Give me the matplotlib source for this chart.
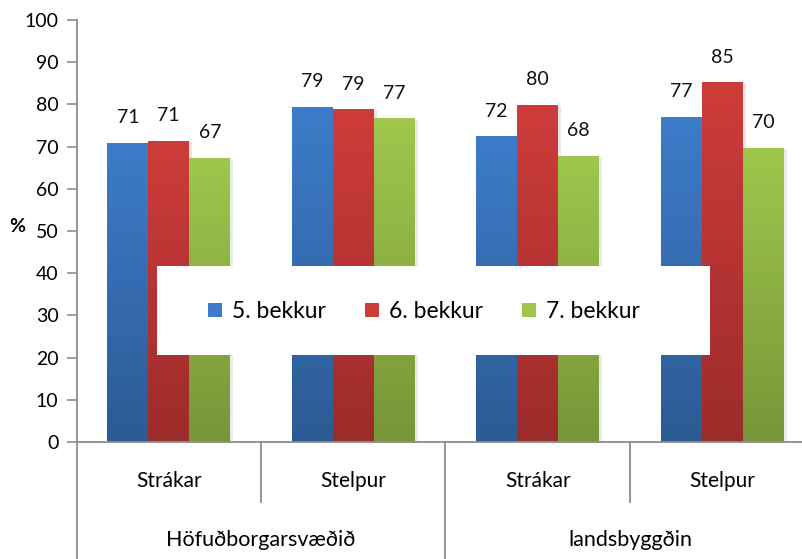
import matplotlib
matplotlib.use("Agg")
import matplotlib.pyplot as plt
import matplotlib.patheffects as pe
from matplotlib.colors import LinearSegmentedColormap
from matplotlib.patches import Rectangle, Patch
import numpy as np

plt.rcParams["font.family"] = ["Lato", "DejaVu Sans"]

# data
categories = ["Strákar", "Stelpur", "Strákar", "Stelpur"]
regions = ["Höfuðborgarsvæðið", "landsbyggðin"]
series = ["5. bekkur", "6. bekkur", "7. bekkur"]
bekkur5 = [70.9, 79.4, 72.4, 77.1]
bekkur6 = [71.4, 78.9, 79.9, 85.3]
bekkur7 = [67.3, 76.7, 67.8, 69.7]
yticks = list(range(0, 101, 10))

# colour pairs (top, bottom) for the gradient fills
grad = [("#3d7cca", "#2c5b94"), ("#ce3c3a", "#9c2c2b"), ("#9ec74c", "#779638")]

fig = plt.figure(figsize=(8.03, 5.59), dpi=100)
W, H = 803, 559
ax = fig.add_axes([76.5 / W, (H - 442) / H, 738 / W, 422 / H])

x = np.arange(len(categories))
bw = 2 / 9
for i, vals in enumerate([bekkur5, bekkur6, bekkur7]):
    top, bot = grad[i]
    cmap = LinearSegmentedColormap.from_list(f"g{i}", [bot, top])
    bars = ax.bar(x + (i - 1) * bw, vals, bw, color=top, zorder=2,
                  path_effects=[pe.SimplePatchShadow(offset=(2, -1), alpha=0.1),
                                pe.Normal()])
    for b, v in zip(bars, vals):
        x0 = b.get_x()
        img = np.linspace(0, 1, 100).reshape(-1, 1)
        im = ax.imshow(img, extent=[x0, x0 + bw, 0, v], origin="lower",
                       aspect="auto", cmap=cmap, zorder=2.1)
        im.set_clip_path(b)
        ax.annotate(f"{v:.0f}", (x0 + bw / 2, v), xytext=(0, 25),
                    textcoords="offset pixels", ha="center", va="center",
                    fontsize=14, color="#111111")

ax.set_xlim(-0.5, len(categories) - 0.5)
ax.set_ylim(0, 100)
ax.set_yticks(yticks)
ax.tick_params(axis="y", length=7, width=1.2, color="#8c8c8c", pad=6,
               labelsize=14)
ax.set_xticks([])
for s in ("top", "right"):
    ax.spines[s].set_visible(False)
for s in ("left", "bottom"):
    ax.spines[s].set_color("#8c8c8c")
    ax.spines[s].set_linewidth(1.3)

# two-level category axis
tr = ax.get_xaxis_transform()
for xi, lab in zip(x, categories):
    ax.text(xi, -39 / 422, lab, transform=tr, ha="center", va="center", fontsize=15)
for k, reg in enumerate(regions):
    ax.text(2 * k + 0.5, -98 / 422, reg, transform=tr, ha="center", va="center",
            fontsize=15.5)
for b in np.arange(-0.5, len(categories), 1.0):
    outer = (b + 0.5) % 2 == 0
    y1 = -117 / 422 if outer else -60 / 422
    ax.plot([b, b], [0, y1], transform=tr, color="#8c8c8c", lw=1.3,
            clip_on=False)

fig.text(17 / W, 1 - 226 / H, "%", fontsize=14, fontweight="bold",
         ha="center", va="center")

# legend box
ax.add_patch(Rectangle((157 / W, 1 - 355 / H), 553 / W, 89 / H,
                       transform=fig.transFigure, facecolor="white",
                       edgecolor="none", zorder=5))
handles = [Patch(facecolor=grad[i][0], edgecolor="none") for i in range(3)]
leg = fig.legend(handles, series, loc="center", bbox_to_anchor=(424 / W, 1 - 311.7 / H),
                 ncol=3, frameon=False, fontsize=16.5, handlelength=0.6,
                 handleheight=0.6, handletextpad=0.45, columnspacing=1.7)
leg.set_zorder(6)

fig.savefig("out.png", dpi=100)
